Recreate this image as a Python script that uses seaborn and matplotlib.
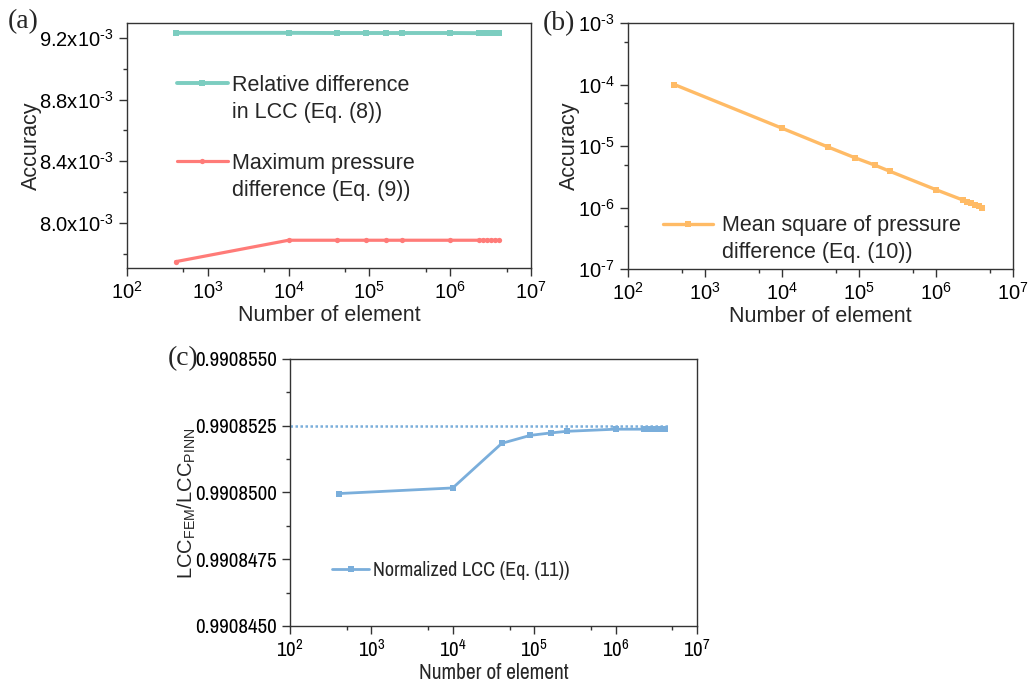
import numpy as np
import pandas as pd
import matplotlib
matplotlib.use("Agg")
import matplotlib.pyplot as plt
import matplotlib.ticker as mticker
from matplotlib.lines import Line2D
from matplotlib.legend_handler import HandlerLine2D
import seaborn as sns

# ---------------- data ----------------
n_elements = [400, 1e4, 4e4, 9e4, 1.6e5, 2.5e5, 1e6, 2.25e6, 2.56e6, 2.89e6, 3.24e6, 3.61e6, 4e6]
rel_diff_lcc = [9.233e-3, 9.233e-3, 9.232e-3, 9.232e-3, 9.232e-3, 9.232e-3, 9.232e-3,
                9.231e-3, 9.231e-3, 9.231e-3, 9.231e-3, 9.231e-3, 9.231e-3]
max_p_diff = [7.749e-3, 7.888e-3, 7.888e-3, 7.888e-3, 7.888e-3, 7.888e-3, 7.888e-3,
              7.888e-3, 7.888e-3, 7.888e-3, 7.888e-3, 7.888e-3, 7.888e-3]
mean_sq_p_diff = [1.0e-4, 1.95e-5, 9.6e-6, 6.4e-6, 4.9e-6, 3.9e-6, 1.95e-6,
                  1.32e-6, 1.24e-6, 1.17e-6, 1.10e-6, 1.04e-6, 0.98e-6]
norm_lcc = [0.99084996, 0.99085017, 0.99085184, 0.99085214, 0.99085223, 0.99085229,
            0.99085237, 0.99085237, 0.99085237, 0.99085237, 0.99085237, 0.99085237, 0.99085237]
ref_value = 0.9908525
ref_span = [1e2, 4.5e6]

labels = {
    "rel": "Relative difference\nin LCC (Eq. (8))",
    "maxp": "Maximum pressure\ndifference (Eq. (9))",
    "msq": "Mean square of pressure\ndifference (Eq. (10))",
    "norm": "Normalized LCC (Eq. (11))",
}
a_yticks = [8.0e-3, 8.4e-3, 8.8e-3, 9.2e-3]
a_yticklabels = ["8.0x10", "8.4x10", "8.8x10", "9.2x10"]
a_exponent = -3
c_yticks = [0.9908450, 0.9908475, 0.9908500, 0.9908525, 0.9908550]

colors = {"rel": "#7ccdc0", "maxp": "#ff7b78", "msq": "#ffbb66", "norm": "#7aaedb"}

# ---------------- style ----------------
sns.set_style("ticks")
SANS = ["Liberation Sans", "DejaVu Sans"]
NARROW = ["Archivo Narrow", "Liberation Sans", "DejaVu Sans"]
plt.rcParams["font.family"] = SANS
plt.rcParams["mathtext.fontset"] = "custom"
plt.rcParams["mathtext.rm"] = "Liberation Sans"
plt.rcParams["mathtext.it"] = "Liberation Sans:italic"
plt.rcParams["mathtext.bf"] = "Liberation Sans:bold"
plt.rcParams["axes.edgecolor"] = "#333333"
plt.rcParams["xtick.color"] = "#333333"
plt.rcParams["ytick.color"] = "#333333"
plt.rcParams["xtick.labelcolor"] = "black"
plt.rcParams["ytick.labelcolor"] = "black"

TICK_FS = 14.5
LABEL_FS = 15.5
LEG_FS = 15.5


class FirstLineHandler(HandlerLine2D):
    """Line handle aligned with the first line of a two-line legend label."""

    def __init__(self, dy, **kw):
        super().__init__(**kw)
        self.dy = dy

    def create_artists(self, legend, orig_handle, xdescent, ydescent, width, height,
                       fontsize, trans):
        arts = super().create_artists(legend, orig_handle, xdescent, ydescent, width,
                                      height, fontsize, trans)
        for a in arts:
            a.set_ydata(np.asarray(a.get_ydata(), dtype=float) + self.dy)
        return arts


def sup(exp):
    if exp < 0:
        return r"^{\text{-}%d}" % (-exp)
    return r"^{%d}" % exp


def log_fmt(v, pos):
    if v <= 0:
        return ""
    e = int(round(np.log10(v)))
    return r"$\mathdefault{10%s}$" % sup(e)


fig = plt.figure(figsize=(10.29, 6.84), dpi=100)
ax_a = fig.add_axes([0.1234, 0.6082, 0.3926, 0.3582])
ax_b = fig.add_axes([0.6103, 0.6067, 0.3741, 0.3596])
ax_c = fig.add_axes([0.2818, 0.0848, 0.3955, 0.3904])


def style_axes(ax, fs=TICK_FS, family=SANS):
    for s in ax.spines.values():
        s.set_visible(True)
        s.set_linewidth(1.0)
    ax.tick_params(which="major", direction="out", length=6, width=1, labelsize=fs,
                   labelfontfamily=family)
    ax.tick_params(which="minor", direction="out", length=3, width=1)
    ax.set_xscale("log")
    ax.set_xlim(1e2, 1e7)
    ax.xaxis.set_major_locator(mticker.LogLocator(base=10, numticks=10))
    ax.xaxis.set_major_formatter(mticker.FuncFormatter(log_fmt))
    ax.xaxis.set_minor_locator(mticker.LogLocator(base=10, subs=[5], numticks=10))
    ax.xaxis.set_minor_formatter(mticker.NullFormatter())


df = pd.DataFrame({"N": n_elements, "rel": rel_diff_lcc, "maxp": max_p_diff,
                   "msq": mean_sq_p_diff, "norm": norm_lcc})

# ---------------- panel (a) ----------------
style_axes(ax_a)
sns.lineplot(data=df, x="N", y="rel", ax=ax_a, color=colors["rel"], lw=2.8,
             marker="s", markersize=4.6, markeredgewidth=0, label=labels["rel"])
sns.lineplot(data=df, x="N", y="maxp", ax=ax_a, color=colors["maxp"], lw=2.3,
             marker="o", markersize=3.8, markeredgewidth=0, label=labels["maxp"])
ax_a.set_ylim(7.708e-3, 9.297e-3)
ax_a.yaxis.set_major_locator(mticker.FixedLocator(a_yticks))
ax_a.yaxis.set_major_formatter(mticker.FixedFormatter(
    [r"$\mathdefault{%s%s}$" % (t, sup(a_exponent)) for t in a_yticklabels]))
ax_a.yaxis.set_minor_locator(mticker.MultipleLocator(0.2e-3))
ax_a.set_xlabel("Number of element", fontsize=LABEL_FS)
ax_a.set_ylabel("Accuracy", fontsize=LABEL_FS)
ax_a.xaxis.set_label_coords(0.5, -0.15)
ax_a.yaxis.set_label_coords(-0.21, 0.5)
leg_a = ax_a.legend(loc="upper left", bbox_to_anchor=(0.124, 0.786), frameon=False,
                    fontsize=LEG_FS, handlelength=2.35, handletextpad=0.2, labelspacing=1.4,
                    borderaxespad=0, borderpad=0,
                    handler_map={Line2D: FirstLineHandler(12.0)})
for t in leg_a.get_texts():
    t.set_linespacing(1.35)

# ---------------- panel (b) ----------------
style_axes(ax_b)
ax_b.set_yscale("log")
sns.lineplot(data=df, x="N", y="msq", ax=ax_b, color=colors["msq"], lw=2.4,
             marker="s", markersize=3.8, markeredgewidth=0, label=labels["msq"])
ax_b.set_ylim(1e-7, 1e-3)
ax_b.yaxis.set_major_locator(mticker.LogLocator(base=10, numticks=10))
ax_b.yaxis.set_major_formatter(mticker.FuncFormatter(log_fmt))
ax_b.yaxis.set_minor_locator(mticker.LogLocator(base=10, subs=[5], numticks=10))
ax_b.yaxis.set_minor_formatter(mticker.NullFormatter())
ax_b.set_xlabel("Number of element", fontsize=LABEL_FS)
ax_b.set_ylabel("Accuracy", fontsize=LABEL_FS)
ax_b.xaxis.set_label_coords(0.5, -0.15)
ax_b.yaxis.set_label_coords(-0.125, 0.5)
leg_b = ax_b.legend(loc="upper left", bbox_to_anchor=(0.091, 0.22), frameon=False,
                    fontsize=LEG_FS, handlelength=2.3, handletextpad=0.45,
                    borderaxespad=0, borderpad=0,
                    handler_map={Line2D: FirstLineHandler(11.0)})
for t in leg_b.get_texts():
    t.set_linespacing(1.35)

# ---------------- panel (c) ----------------
style_axes(ax_c, fs=15, family=NARROW)
ax_c.hlines(ref_value, ref_span[0], ref_span[1], colors=colors["norm"], linestyles=(0, (1, 1)), lw=1.8)
sns.lineplot(data=df, x="N", y="norm", ax=ax_c, color=colors["norm"], lw=2.0,
             marker="s", markersize=4, markeredgewidth=0, label=labels["norm"])
ax_c.set_ylim(0.9908450, 0.9908550)
ax_c.yaxis.set_major_locator(mticker.FixedLocator(c_yticks))
ax_c.yaxis.set_major_formatter(mticker.FuncFormatter(lambda v, p: "%.7f" % v))
ax_c.yaxis.set_minor_locator(mticker.MultipleLocator(1.25e-6))
ax_c.set_xlabel("Number of element", fontsize=LABEL_FS, family=NARROW)
ax_c.set_ylabel(r"LCC$_{\mathrm{FEM}}$/LCC$_{\mathrm{PINN}}$", fontsize=14.5)
ax_c.xaxis.set_label_coords(0.5, -0.14)
ax_c.yaxis.set_label_coords(-0.226, 0.46)
ax_c.legend(loc="upper left", bbox_to_anchor=(0.103, 0.245), frameon=False,
            handlelength=1.85, handletextpad=0.2,
            borderaxespad=0, borderpad=0, prop={"family": NARROW, "size": 14.5})

# ---------------- panel labels ----------------
serif = ["Liberation Serif", "DejaVu Serif"]
fig.text(8 / 1029, 1 - 22 / 684, "(a)", family=serif, fontsize=20, va="center", ha="left")
fig.text(543 / 1029, 1 - 24 / 684, "(b)", family=serif, fontsize=20, va="center", ha="left")
fig.text(168 / 1029, 1 - 359 / 684, "(c)", family=serif, fontsize=20, va="center", ha="left")

fig.savefig("out.png", dpi=100)
